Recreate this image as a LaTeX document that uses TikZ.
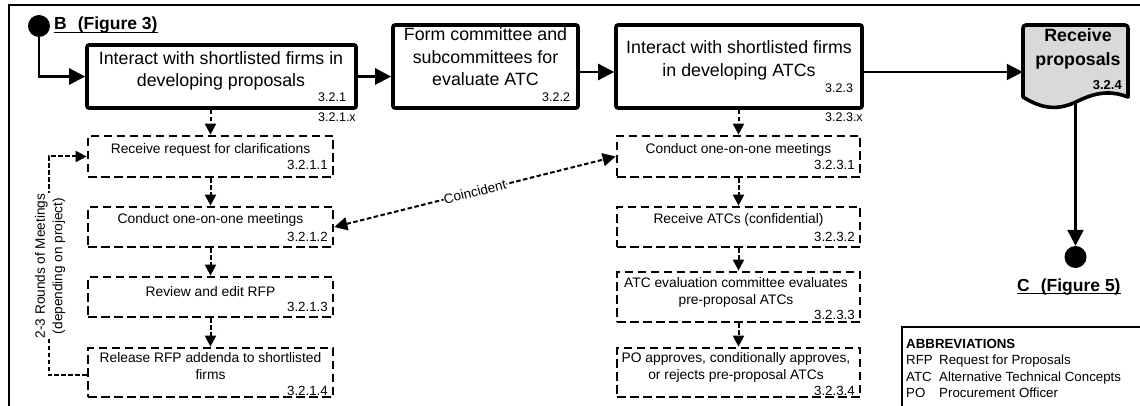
\documentclass[tikz,border=0pt]{standalone}
\usepackage{fontspec}
\setmainfont{Liberation Sans}
\usetikzlibrary{arrows.meta}
\definecolor{docgray}{RGB}{217,217,217}
\begin{document}
\begin{tikzpicture}[x=1pt,y=-1pt,
  mainbox/.style={draw, line width=3.6pt, rounded corners=2pt, inner sep=0pt, fill=white},
  subbox/.style={draw, line width=2.7pt, dash pattern=on 8.5pt off 4.5pt, inner sep=0pt},
  maintext/.style={align=center, font=\fontsize{17.8}{22.5}\selectfont, inner sep=0pt},
  subtext/.style={align=center, font=\fontsize{13.8}{17}\selectfont, inner sep=0pt},
  mainnum/.style={anchor=west, font=\fontsize{12.5}{14}\selectfont, inner sep=0pt},
  subnum/.style={anchor=east, font=\fontsize{13.3}{15}\selectfont, inner sep=0pt},
  flow/.style={line width=2.4pt, -{Triangle[length=16pt,width=16pt]}},
  dots/.style={line width=2pt, dash pattern=on 4.5pt off 2.5pt, -{Triangle[length=11pt,width=11pt]}},
  dotsboth/.style={line width=2pt, dash pattern=on 4.5pt off 2.5pt,
    {Triangle[length=13pt,width=13pt]}-{Triangle[length=13pt,width=13pt]}},
  terminal/.style={circle, fill=black, minimum size=22pt, inner sep=0pt},
  linklabel/.style={font=\bfseries\fontsize{17.5}{20}\selectfont, inner sep=0pt, anchor=base west},
]
\useasboundingbox (0,0) rectangle (1140,406);
\clip (0,0) rectangle (1140,406);

% page frame
\draw[line width=2.4pt] (1160,5) -- (9,5) -- (9,430);

% connector B
\node[terminal] (dB) at (39,26) {};
\node[linklabel] (lB) at (54,29.5) {B\hspace{11pt}(Figure 3)};
\draw[line width=1.3pt] ([yshift=-2.8pt]lB.base west) -- ([yshift=-2.8pt]lB.base east);

% main steps
\node[mainbox, minimum width=269pt, minimum height=63pt] (b1) at (221.5,76.5) {};
\node[maintext] (t1) at (221,71) {Interact with shortlisted firms in\\developing proposals};
\node[mainnum] (n1) at (318,97) {3.2.1};
\node[mainnum] (n1x) at (318,117) {3.2.1.x};

\node[mainbox, minimum width=185pt, minimum height=83pt] (b2) at (485.5,66.5) {};
\node[maintext] (t2) at (485.5,57) {Form committee and\\subcommittees for\\evaluate ATC};
\node[mainnum] (n2) at (542,97) {3.2.2};

\node[mainbox, minimum width=246pt, minimum height=83pt] (b3) at (739,66.5) {};
\node[maintext] (t3) at (739,60.5) {Interact with shortlisted firms\\in developing ATCs};
\node[mainnum] (n3) at (825,88) {3.2.3};
\node[mainnum] (n3x) at (825,117) {3.2.3.x};

% document step
\node[minimum width=105pt, minimum height=72pt, inner sep=0pt] (doc) at (1075.5,61) {};
\draw[line width=3.6pt, fill=docgray, line join=round]
  (1023,97) [rounded corners=3pt] -- (1023,25) -- (1128,25) [sharp corners] -- (1128,97)
  .. controls (1115,92) and (1100,90) .. (1078,101)
  .. controls (1058,111) and (1042,109) .. (1023,97) -- cycle;
\node[maintext, font=\bfseries\fontsize{17.8}{23.5}\selectfont] (t4) at (1078,49) {Receive\\proposals};
\node[subnum, font=\bfseries\fontsize{13}{15}\selectfont] (n4) at (1122,85) {3.2.4};

% connector C
\node[terminal] (dC) at (1075.5,257) {};
\node[linklabel] (lC) at (1017,291) {C\hspace{11pt}(Figure 5)};
\draw[line width=1.3pt] ([yshift=-2.8pt]lC.base west) -- ([yshift=-2.8pt]lC.base east);

% sub-steps of 3.2.1
\node[subbox, minimum width=245pt, minimum height=41pt] (b211) at (210.5,156.5) {};
\node[subtext] (t211) at (210.5,150) {Receive request for clarifications};
\node[subnum] (n211) at (328,165) {3.2.1.1};

\node[subbox, minimum width=245pt, minimum height=40pt] (b212) at (210.5,227) {};
\node[subtext] (t212) at (210.5,220) {Conduct one-on-one meetings};
\node[subnum] (n212) at (328,237) {3.2.1.2};

\node[subbox, minimum width=245pt, minimum height=40pt] (b213) at (210.5,297) {};
\node[subtext] (t213) at (210.5,292) {Review and edit RFP};
\node[subnum] (n213) at (328,307) {3.2.1.3};

\node[subbox, minimum width=245pt, minimum height=49pt] (b214) at (210.5,372.5) {};
\node[subtext] (t214) at (210.5,366.5) {Release RFP addenda to shortlisted\\firms};
\node[subnum] (n214) at (328,391) {3.2.1.4};

% sub-steps of 3.2.3
\node[subbox, minimum width=243pt, minimum height=41pt] (b231) at (738.5,156.5) {};
\node[subtext] (t231) at (738.5,150) {Conduct one-on-one meetings};
\node[subnum] (n231) at (855,165) {3.2.3.1};

\node[subbox, minimum width=243pt, minimum height=40pt] (b232) at (738.5,227) {};
\node[subtext] (t232) at (738.5,220) {Receive ATCs (confidential)};
\node[subnum] (n232) at (855,237) {3.2.3.2};

\node[subbox, minimum width=243pt, minimum height=50pt] (b233) at (738.5,297) {};
\node[subtext] (t233) at (736,292.5) {ATC evaluation committee evaluates\\pre-proposal ATCs};
\node[subnum] (n233) at (855,315) {3.2.3.3};

\node[subbox, minimum width=243pt, minimum height=49pt] (b234) at (738.5,372.5) {};
\node[subtext] (t234) at (736,367.5) {PO approves, conditionally approves,\\or rejects pre-proposal ATCs};
\node[subnum] (n234) at (855,391) {3.2.3.4};

% abbreviations
\draw[line width=2pt] (1160,327) -- (902,327) -- (902,430);
\node[anchor=base west, inner sep=0pt, font=\fontsize{13.3}{16.5}\selectfont] (abbr) at (906,348)
  {\begin{tabular}[t]{@{}p{33pt}@{}l@{}}
    \multicolumn{2}{@{}l}{\textbf{ABBREVIATIONS}}\\
    RFP & Request for Proposals\\
    ATC & Alternative Technical Concepts\\
    PO & Procurement Officer
  \end{tabular}};

% main flow
\draw[flow] (dB.south) |- (b1.west);
\draw[flow] (b1.east) -- (b1.east -| b2.west);
\draw[flow] ([yshift=-5.5pt]b2.east) -- ([yshift=-5.5pt]b3.west);
\draw[flow] ([yshift=-5.5pt]b3.east) -- ([yshift=-5.5pt]b3.east -| doc.west);
\draw[flow] ([yshift=-4pt]doc.south) -- (dC.north);

% detail flow of 3.2.1
\draw[dots] (b1.south -| b211.north) -- (b211.north);
\draw[dots] (b211.south) -- (b212.north);
\draw[dots] (b212.south) -- (b213.north);
\draw[dots] (b213.south) -- (b214.north);
\draw[dots] ([yshift=-2.5pt]b214.west) -- ++(-38,0) |- (b211.west);
\node[rotate=90, fill=white, align=center, inner sep=1pt,
  font=\fontsize{13.6}{17.5}\selectfont] (loop) at (50,266)
  {2-3 Rounds of Meetings\\(depending on project)};

% detail flow of 3.2.3
\draw[dots] (b3.south -| b231.north) -- (b231.north);
\draw[dots] (b231.south) -- (b232.north);
\draw[dots] (b232.south) -- (b233.north);
\draw[dots] (b233.south) -- (b234.north);

% meetings held at the same time
\draw[dotsboth] (b212.east) -- node[sloped, fill=white, inner sep=0.5pt,
  font=\fontsize{13.5}{15}\selectfont] (coinc) {Coincident} (b231.west);
\end{tikzpicture}
\end{document}
